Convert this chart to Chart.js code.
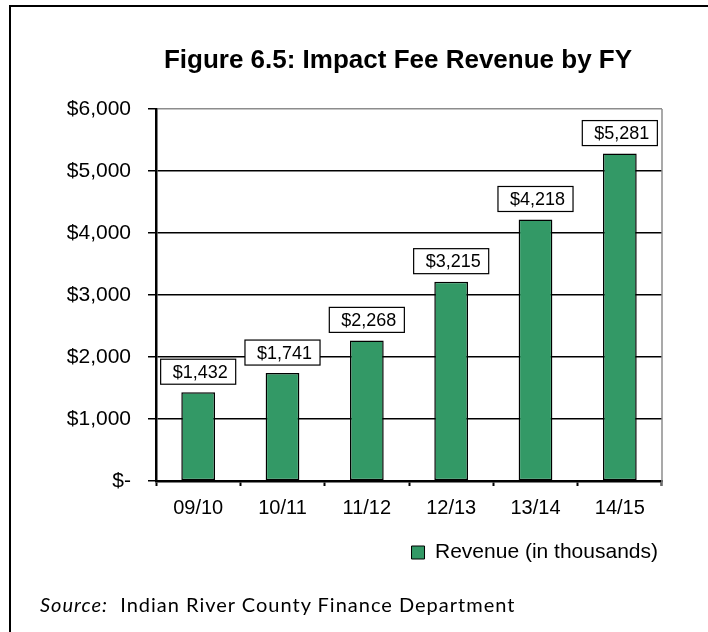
<!DOCTYPE html>
<html>
<head>
<meta charset="utf-8">
<script src="https://cdn.jsdelivr.net/npm/chart.js@4.4.1/dist/chart.umd.min.js"></script>
<style>
    html, body { margin: 0; padding: 0; background: #fff; }
    #wrap { position: relative; width: 708px; height: 632px; overflow: hidden; }
    #frame { position: absolute; left: 9px; top: 5px; width: 900px; height: 900px; border-left: 2px solid #000; border-top: 2px solid #000; }
    #title { position: absolute; left: 0; top: 46px; width: 796px; text-align: center; font: bold 26px/26px "Liberation Sans", Arial, sans-serif; color: #000; }
    #source { position: absolute; left: 40px; top: 594px; font: 20px/20px Lato, sans-serif; letter-spacing: 1px; color: #000; }
    canvas { position: absolute; left: 0; top: 0; }
</style>
</head>
<body>
<div id="wrap">
    <canvas id="myChart" width="708" height="632"></canvas>
    <div id="frame"></div>
    <div id="title">Figure 6.5: Impact Fee Revenue by FY</div>
    <div id="source"><i>Source:</i>&nbsp; Indian River County Finance Department</div>
</div>
<script>
const fiscalYears = ['09/10', '10/11', '11/12', '12/13', '13/14', '14/15'];
const revenue = [1432, 1741, 2268, 3215, 4218, 5281];
const yTicks = [0, 1000, 2000, 3000, 4000, 5000, 6000];
const seriesLabel = 'Revenue (in thousands)';

const green = '#339966';
const fontFamily = "'Liberation Sans', Arial, sans-serif";

const money = v => v === 0 ? '$-' : '$' + v.toLocaleString('en-US');

// caixinhas com o valor em cima de cada barra
const valueBoxes = {
    id: 'valueBoxes',
    afterDatasetsDraw(chart) {
        const ctx = chart.ctx;
        const meta = chart.getDatasetMeta(0);
        ctx.save();
        ctx.font = '18px ' + fontFamily;
        ctx.textAlign = 'center';
        ctx.textBaseline = 'middle';
        meta.data.forEach((bar, i) => {
            const text = money(revenue[i]);
            const w = ctx.measureText(text).width + 20;
            const h = 25;
            const bottom = bar.y - 8;
            ctx.fillStyle = '#fff';
            ctx.fillRect(bar.x - w / 2, bottom - h, w, h);
            ctx.strokeStyle = '#000';
            ctx.lineWidth = 1.2;
            ctx.strokeRect(bar.x - w / 2, bottom - h, w, h);
            ctx.fillStyle = '#000';
            ctx.fillText(text, bar.x + 2, bottom - h / 2 + 1);
        });
        ctx.restore();
    }
};

// borda cinza à direita da área do gráfico
const plotFrame = {
    id: 'plotFrame',
    afterDraw(chart) {
        const { ctx, chartArea } = chart;
        ctx.save();
        ctx.strokeStyle = '#8c8c8c';
        ctx.lineWidth = 1.5;
        ctx.beginPath();
        ctx.moveTo(chartArea.right, chartArea.top);
        ctx.lineTo(chartArea.right, chartArea.bottom + 5);
        ctx.stroke();
        ctx.restore();
    }
};

new Chart(document.getElementById('myChart'), {
    type: 'bar',
    data: {
        labels: fiscalYears,
        datasets: [{
            label: seriesLabel,
            data: revenue,
            backgroundColor: green,
            borderColor: '#000',
            borderWidth: 1.5,
            borderSkipped: false,
            barPercentage: 0.4,
            categoryPercentage: 1
        }]
    },
    options: {
        responsive: false,
        animation: false,
        layout: { padding: { left: 20, right: 46, top: 109, bottom: 59 } },
        plugins: {
            title: { display: false },
            tooltip: { enabled: false },
            legend: {
                position: 'bottom',
                align: 'end',
                labels: {
                    boxWidth: 13,
                    boxHeight: 13,
                    padding: 4,
                    color: '#000',
                    font: { family: fontFamily, size: 21 },
                    generateLabels: () => [{
                        text: seriesLabel,
                        fillStyle: green,
                        strokeStyle: '#000',
                        lineWidth: 1,
                        datasetIndex: 0
                    }]
                }
            }
        },
        scales: {
            x: {
                grid: {
                    offset: true,
                    drawOnChartArea: false,
                    tickLength: 5,
                    tickColor: '#000',
                    tickWidth: 2
                },
                border: { color: '#000', width: 2.5 },
                ticks: { color: '#000', font: { family: fontFamily, size: 20 }, padding: 10 },
                afterFit: scale => { scale.height = 57; }
            },
            y: {
                min: 0,
                max: 6000,
                afterBuildTicks: scale => { scale.ticks = yTicks.map(v => ({ value: v })); },
                grid: {
                    color: c => c.tick && c.tick.value === 6000 ? '#8c8c8c' : '#000',
                    lineWidth: 1.5,
                    tickLength: 8,
                    tickColor: '#000'
                },
                border: { color: '#000', width: 2.5 },
                ticks: { color: '#000', font: { family: fontFamily, size: 21 }, padding: 17, callback: v => money(v) },
                afterFit: scale => { scale.width = 136; }
            }
        }
    },
    plugins: [valueBoxes, plotFrame]
});
</script>
</body>
</html>
